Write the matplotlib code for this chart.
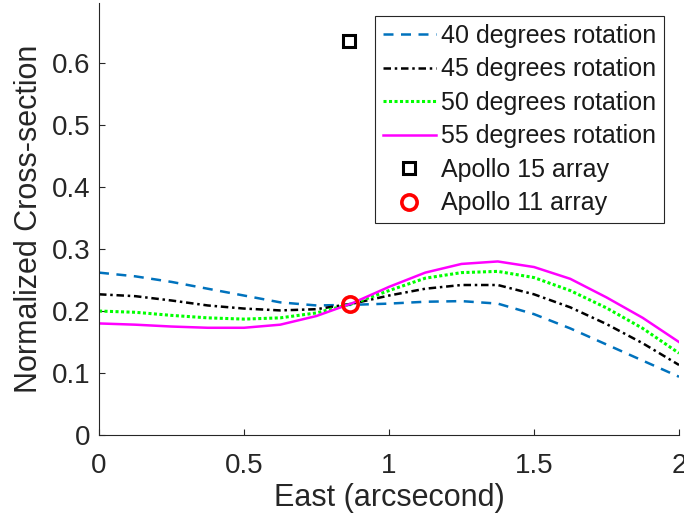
import matplotlib
matplotlib.use('Agg')
import matplotlib.pyplot as plt
import numpy as np

# East offset (arcsecond)
east = [0.0, 0.125, 0.25, 0.375, 0.5, 0.625, 0.75, 0.875, 1.0,
        1.125, 1.25, 1.375, 1.5, 1.625, 1.75, 1.875, 2.0]

rot40 = [0.262, 0.256, 0.247, 0.236, 0.225, 0.214, 0.209, 0.210, 0.212,
         0.215, 0.216, 0.212, 0.195, 0.172, 0.146, 0.120, 0.094]
rot45 = [0.227, 0.224, 0.217, 0.209, 0.204, 0.201, 0.203, 0.212, 0.225,
         0.236, 0.242, 0.242, 0.227, 0.206, 0.179, 0.148, 0.113]
rot50 = [0.200, 0.198, 0.193, 0.189, 0.187, 0.189, 0.197, 0.212, 0.233,
         0.253, 0.262, 0.264, 0.254, 0.233, 0.205, 0.172, 0.132]
rot55 = [0.180, 0.178, 0.175, 0.173, 0.173, 0.178, 0.192, 0.213, 0.239,
         0.262, 0.276, 0.280, 0.271, 0.252, 0.222, 0.189, 0.150]

apollo15 = (0.862, 0.636)
apollo11 = (0.866, 0.211)

yticks = [0, 0.1, 0.2, 0.3, 0.4, 0.5, 0.6]
xticks = [0, 0.5, 1, 1.5, 2]
xtick_labels = ['0', '0.5', '1', '1.5', '2']

plt.rcParams['font.family'] = ['Liberation Sans', 'DejaVu Sans']
axcol = '#262626'

fig = plt.figure(figsize=(6.84, 5.24), dpi=100)
ax = fig.add_axes([99 / 684, 1 - 435 / 524, 580 / 684, 432 / 524])

ax.plot(east, rot40, color='#0072BD', lw=1.8, linestyle=(0, (4, 3)),
        label='40 degrees rotation')
ax.plot(east, rot45, color='black', lw=1.8, linestyle=(0, (3, 1.5, 1, 1.5)),
        label='45 degrees rotation')
ax.plot(east, rot50, color='#00FF00', lw=2.2, linestyle=(0, (1, 0.8)),
        label='50 degrees rotation')
ax.plot(east, rot55, color='#FF00FF', lw=1.8, linestyle='-',
        label='55 degrees rotation')
ax.plot([apollo15[0]], [apollo15[1]], linestyle='none', marker='s',
        markersize=8, markerfacecolor='none', markeredgecolor='black',
        markeredgewidth=2.2, label='Apollo 15 array')
ax.plot([apollo11[0]], [apollo11[1]], linestyle='none', marker='o',
        markersize=11, markerfacecolor='none', markeredgecolor='red',
        markeredgewidth=2.6, label='Apollo 11 array')

ax.set_xlim(0, 2)
ax.set_ylim(0, 0.697)
ax.set_xticks(xticks)
ax.set_xticklabels(xtick_labels)
ax.set_yticks(yticks)
ax.set_yticklabels([('%g' % v) for v in yticks])

for side in ['top', 'right']:
    ax.spines[side].set_visible(False)
for side in ['left', 'bottom']:
    ax.spines[side].set_color(axcol)
    ax.spines[side].set_linewidth(0.8)
ax.tick_params(direction='in', length=4, width=0.8, colors=axcol,
               labelsize=20)
ax.tick_params(axis='x', pad=13)
ax.tick_params(axis='y', pad=6)

ax.set_xlabel('East (arcsecond)', fontsize=22, color=axcol, labelpad=3)
ax.set_ylabel('Normalized Cross-section', fontsize=22, color=axcol, labelpad=6)

leg = ax.legend(loc='upper right', bbox_to_anchor=(0.974, 0.970),
                borderaxespad=0, fontsize=18, handlelength=2.1,
                handletextpad=0.2, labelspacing=0.38, borderpad=0.32,
                fancybox=False, framealpha=1)
leg.get_frame().set_edgecolor(axcol)
leg.get_frame().set_linewidth(0.8)
for t in leg.get_texts():
    t.set_color('#1a1a1a')

fig.savefig('out.png', dpi=100)
